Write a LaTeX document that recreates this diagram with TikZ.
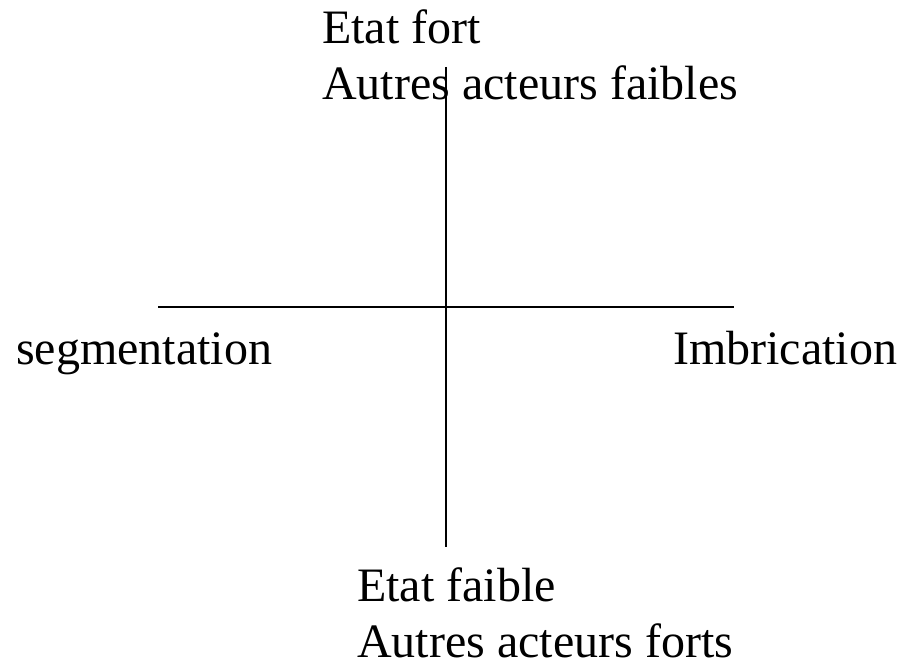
\documentclass[tikz,border=0pt]{standalone}
\usepackage{fontspec}
\setmainfont{Liberation Serif}

\begin{document}
\begin{tikzpicture}[x=1pt, y=1pt, every node/.style={font=\fontsize{48}{56}\selectfont, inner sep=0pt, align=left, anchor=base west}]
\useasboundingbox (0,0) rectangle (907,663);
% the two axes
\coordinate (axtop) at (446,596);
\coordinate (axbot) at (446,116);
\coordinate (axleft) at (158,356);
\coordinate (axright) at (734,356);
\draw[line width=2.8pt] (axtop) -- (axbot);
\draw[line width=2.8pt] (axleft) -- (axright);
% labels at the ends
\node (fort) at (322,563) {Etat fort\\Autres acteurs faibles};
\node (faible) at (357,5) {Etat faible\\Autres acteurs forts};
\node (segm) at (16,298) {segmentation};
\node (imbr) at (673,298) {Imbrication};
\end{tikzpicture}
\end{document}
